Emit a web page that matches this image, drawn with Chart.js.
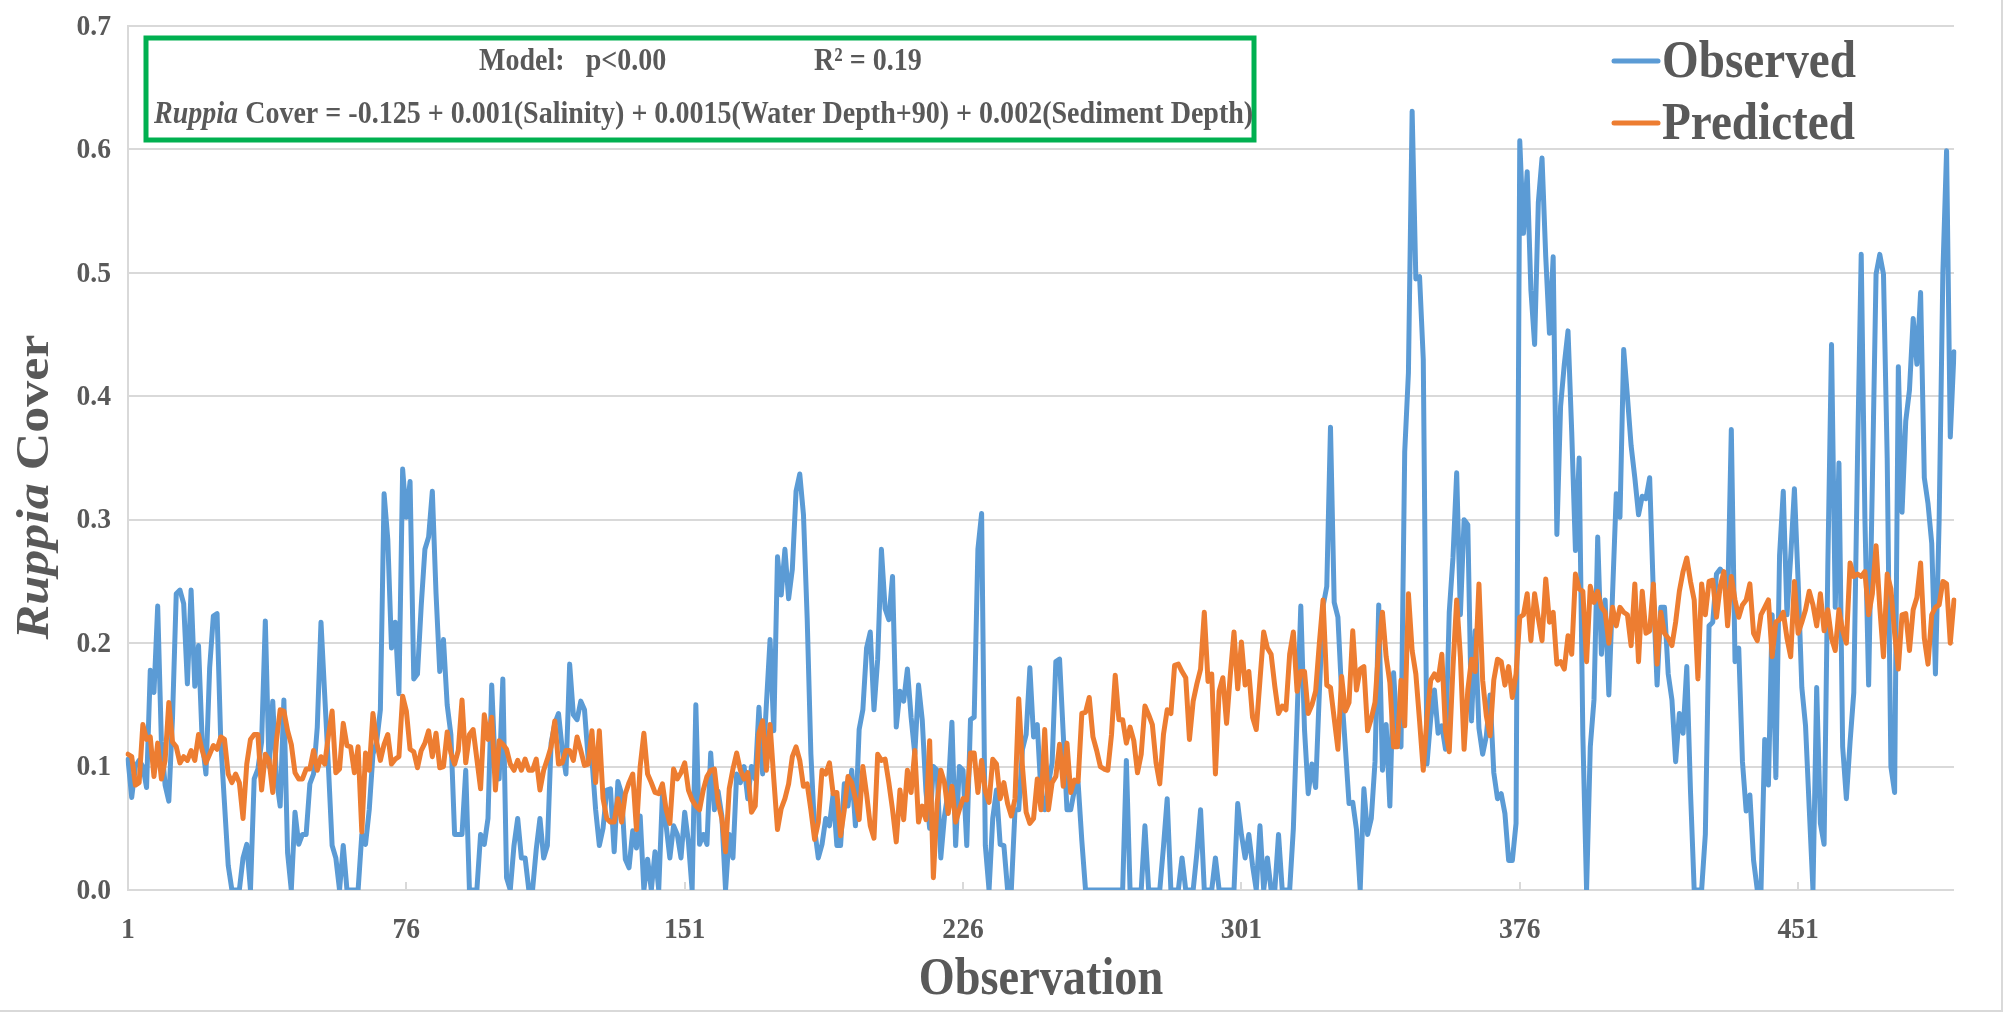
<!DOCTYPE html>
<html>
<head>
<meta charset="utf-8">
<title>Ruppia Cover: observed vs predicted</title>
<script src="https://cdn.jsdelivr.net/npm/chart.js@4.4.1/dist/chart.umd.min.js"></script>
<style>
  html, body { margin: 0; padding: 0; background: #ffffff; }
  #wrap { width: 2003px; height: 1012px; position: relative; }
  canvas { display: block; }
</style>
</head>
<body>
<div id="wrap"><canvas id="cover" width="2003" height="1012"></canvas></div>
<script>
// Observed Ruppia cover, one value per observation (1..493)
const observedCover = [
  0.106, 0.075, 0.10, 0.105, 0.10, 0.083, 0.178, 0.16, 0.23, 0.12,
  0.085, 0.072, 0.14, 0.24, 0.243, 0.232, 0.167, 0.243, 0.165, 0.198,
  0.12, 0.094, 0.18, 0.222, 0.224, 0.12, 0.07, 0.02, 0, 0,
  0, 0.026, 0.037, 0, 0.09, 0.098, 0.12, 0.218, 0.10, 0.153,
  0.09, 0.068, 0.154, 0.03, 0, 0.063, 0.037, 0.045, 0.045, 0.086,
  0.094, 0.132, 0.217, 0.158, 0.10, 0.036, 0.026, 0, 0.036, 0,
  0, 0, 0, 0.045, 0.037, 0.065, 0.11, 0.12, 0.146, 0.321,
  0.284, 0.196, 0.217, 0.159, 0.341, 0.302, 0.331, 0.171, 0.175, 0.23,
  0.276, 0.286, 0.323, 0.24, 0.177, 0.203, 0.15, 0.126, 0.045, 0.045,
  0.045, 0.097, 0, 0, 0, 0.045, 0.037, 0.058, 0.166, 0.095,
  0.09, 0.171, 0.01, 0, 0.036, 0.058, 0.026, 0.026, 0, 0,
  0.033, 0.058, 0.026, 0.036, 0.119, 0.135, 0.143, 0.114, 0.094, 0.183,
  0.142, 0.138, 0.153, 0.146, 0.106, 0.106, 0.065, 0.036, 0.05, 0.081,
  0.082, 0.031, 0.088, 0.078, 0.025, 0.018, 0.048, 0.034, 0.06, 0,
  0.025, 0, 0.031, 0, 0.078, 0.052, 0.026, 0.052, 0.045, 0.026,
  0.063, 0.039, 0, 0.15, 0.037, 0.045, 0.037, 0.111, 0.065, 0.08,
  0.06, 0, 0.045, 0.026, 0.094, 0.087, 0.1, 0.074, 0.1, 0.09,
  0.148, 0.094, 0.15, 0.203, 0.129, 0.27, 0.239, 0.276, 0.236, 0.26,
  0.323, 0.337, 0.304, 0.22, 0.11, 0.049, 0.026, 0.037, 0.058, 0.052,
  0.078, 0.036, 0.036, 0.086, 0.068, 0.097, 0.052, 0.13, 0.146, 0.196,
  0.209, 0.146, 0.187, 0.276, 0.228, 0.219, 0.254, 0.132, 0.161, 0.153,
  0.179, 0.14, 0.11, 0.166, 0.138, 0.08, 0.05, 0.1, 0.097, 0.026,
  0.06, 0.08, 0.136, 0.036, 0.1, 0.097, 0.036, 0.138, 0.14, 0.276,
  0.305, 0.036, 0, 0.058, 0.081, 0.037, 0.036, 0, 0, 0.065,
  0.065, 0.114, 0.126, 0.18, 0.124, 0.134, 0.078, 0.065, 0.086, 0.103,
  0.185, 0.187, 0.126, 0.065, 0.065, 0.081, 0.087, 0.04, 0, 0,
  0, 0, 0, 0, 0, 0, 0, 0, 0, 0.105,
  0, 0, 0, 0, 0.052, 0, 0, 0, 0, 0.035,
  0.074, 0, 0, 0, 0.026, 0, 0, 0, 0.03, 0.065,
  0, 0, 0, 0.026, 0, 0, 0, 0, 0, 0.07,
  0.045, 0.026, 0.045, 0.02, 0, 0.052, 0, 0.026, 0, 0,
  0.045, 0, 0, 0, 0.05, 0.14, 0.23, 0.13, 0.078, 0.102,
  0.083, 0.16, 0.23, 0.246, 0.375, 0.233, 0.221, 0.16, 0.116, 0.07,
  0.071, 0.049, 0, 0.082, 0.045, 0.058, 0.104, 0.231, 0.097, 0.134,
  0.068, 0.176, 0.125, 0.116, 0.355, 0.419, 0.631, 0.495, 0.497, 0.43,
  0.102, 0.139, 0.162, 0.127, 0.133, 0.114, 0.225, 0.269, 0.338, 0.223,
  0.3, 0.296, 0.137, 0.21, 0.131, 0.11, 0.125, 0.158, 0.095, 0.074,
  0.078, 0.062, 0.024, 0.024, 0.054, 0.607, 0.532, 0.582, 0.486, 0.442,
  0.557, 0.593, 0.513, 0.451, 0.513, 0.288, 0.392, 0.426, 0.453, 0.371,
  0.275, 0.35, 0.125, 0, 0.116, 0.154, 0.286, 0.191, 0.235, 0.158,
  0.24, 0.321, 0.302, 0.438, 0.4, 0.36, 0.334, 0.304, 0.319, 0.317,
  0.334, 0.24, 0.166, 0.229, 0.229, 0.175, 0.154, 0.104, 0.143, 0.127,
  0.181, 0.08, 0, 0, 0, 0.045, 0.214, 0.217, 0.256, 0.26,
  0.256, 0.23, 0.373, 0.185, 0.196, 0.104, 0.064, 0.077, 0.024, 0,
  0, 0.122, 0.085, 0.223, 0.091, 0.271, 0.323, 0.223, 0.27, 0.325,
  0.25, 0.164, 0.133, 0.066, 0, 0.164, 0.054, 0.037, 0.262, 0.442,
  0.229, 0.346, 0.116, 0.074, 0.12, 0.16, 0.35, 0.515, 0.3, 0.166,
  0.33, 0.499, 0.515, 0.499, 0.35, 0.1, 0.079, 0.424, 0.306, 0.38,
  0.405, 0.463, 0.426, 0.484, 0.334, 0.313, 0.281, 0.175, 0.3, 0.5,
  0.599, 0.367, 0.436
];

// Cover predicted by the regression model, same observations
const predictedCover = [
  0.11, 0.108, 0.085, 0.087, 0.134, 0.122, 0.124, 0.092, 0.119, 0.09,
  0.105, 0.152, 0.12, 0.116, 0.103, 0.108, 0.105, 0.113, 0.105, 0.126,
  0.113, 0.103, 0.11, 0.117, 0.114, 0.124, 0.122, 0.094, 0.087, 0.094,
  0.087, 0.058, 0.102, 0.122, 0.126, 0.126, 0.081, 0.11, 0.105, 0.079,
  0.121, 0.146, 0.145, 0.129, 0.118, 0.095, 0.09, 0.09, 0.098, 0.098,
  0.113, 0.097, 0.108, 0.102, 0.125, 0.145, 0.095, 0.098, 0.135, 0.117,
  0.116, 0.095, 0.116, 0.047, 0.111, 0.097, 0.143, 0.12, 0.105, 0.118,
  0.126, 0.102, 0.106, 0.108, 0.157, 0.145, 0.114, 0.112, 0.099, 0.113,
  0.119, 0.129, 0.108, 0.127, 0.099, 0.1, 0.128, 0.111, 0.102, 0.113,
  0.154, 0.103, 0.126, 0.13, 0.106, 0.082, 0.142, 0.122, 0.14, 0.081,
  0.121, 0.118, 0.114, 0.102, 0.097, 0.105, 0.097, 0.106, 0.097, 0.097,
  0.106, 0.081, 0.097, 0.106, 0.116, 0.137, 0.102, 0.103, 0.113, 0.113,
  0.105, 0.124, 0.113, 0.101, 0.102, 0.129, 0.087, 0.129, 0.074, 0.058,
  0.055, 0.055, 0.074, 0.055, 0.078, 0.087, 0.094, 0.049, 0.10, 0.127,
  0.094, 0.087, 0.079, 0.078, 0.086, 0.065, 0.054, 0.098, 0.09, 0.095,
  0.103, 0.081, 0.073, 0.068, 0.065, 0.081, 0.092, 0.097, 0.098, 0.071,
  0.058, 0.031, 0.082, 0.098, 0.111, 0.097, 0.09, 0.095, 0.063, 0.068,
  0.127, 0.137, 0.097, 0.134, 0.09, 0.049, 0.066, 0.074, 0.086, 0.108,
  0.116, 0.105, 0.084, 0.086, 0.065, 0.041, 0.055, 0.097, 0.094, 0.103,
  0.078, 0.079, 0.044, 0.065, 0.092, 0.087, 0.074, 0.057, 0.1, 0.078,
  0.052, 0.042, 0.11, 0.105, 0.106, 0.087, 0.065, 0.039, 0.081, 0.057,
  0.097, 0.079, 0.113, 0.055, 0.068, 0.057, 0.121, 0.01, 0.07, 0.097,
  0.087, 0.062, 0.084, 0.055, 0.065, 0.074, 0.073, 0.111, 0.111, 0.079,
  0.105, 0.08, 0.071, 0.106, 0.102, 0.074, 0.087, 0.07, 0.06, 0.074,
  0.155, 0.1, 0.063, 0.054, 0.058, 0.09, 0.065, 0.13, 0.065, 0.087,
  0.092, 0.118, 0.084, 0.119, 0.079, 0.089, 0.088, 0.143, 0.144, 0.156,
  0.124, 0.113, 0.1, 0.098, 0.097, 0.126, 0.174, 0.138, 0.138, 0.119,
  0.132, 0.121, 0.095, 0.11, 0.149, 0.142, 0.134, 0.103, 0.086, 0.126,
  0.146, 0.143, 0.182, 0.183, 0.177, 0.172, 0.122, 0.153, 0.167, 0.179,
  0.225, 0.169, 0.175, 0.094, 0.161, 0.172, 0.135, 0.174, 0.209, 0.163,
  0.201, 0.166, 0.177, 0.14, 0.13, 0.17, 0.209, 0.196, 0.191, 0.165,
  0.143, 0.149, 0.146, 0.191, 0.209, 0.161, 0.177, 0.177, 0.143, 0.15,
  0.161, 0.2, 0.235, 0.166, 0.164, 0.139, 0.114, 0.173, 0.145, 0.152,
  0.21, 0.162, 0.179, 0.181, 0.129, 0.139, 0.152, 0.196, 0.225, 0.189,
  0.168, 0.116, 0.116, 0.17, 0.133, 0.24, 0.194, 0.175, 0.137, 0.097,
  0.14, 0.17, 0.175, 0.17, 0.191, 0.129, 0.112, 0.18, 0.235, 0.189,
  0.114, 0.162, 0.187, 0.177, 0.248, 0.17, 0.141, 0.125, 0.17, 0.187,
  0.185, 0.166, 0.181, 0.156, 0.175, 0.221, 0.223, 0.24, 0.202, 0.24,
  0.22, 0.202, 0.252, 0.217, 0.225, 0.183, 0.185, 0.179, 0.206, 0.191,
  0.256, 0.244, 0.242, 0.185, 0.246, 0.233, 0.242, 0.229, 0.225, 0.2,
  0.229, 0.214, 0.229, 0.225, 0.223, 0.198, 0.248, 0.185, 0.242, 0.208,
  0.21, 0.248, 0.183, 0.225, 0.208, 0.204, 0.198, 0.217, 0.242, 0.258,
  0.269, 0.25, 0.235, 0.171, 0.248, 0.223, 0.25, 0.251, 0.221, 0.246,
  0.258, 0.214, 0.254, 0.235, 0.221, 0.231, 0.235, 0.248, 0.208, 0.202,
  0.223, 0.229, 0.235, 0.189, 0.217, 0.219, 0.225, 0.204, 0.189, 0.25,
  0.208, 0.217, 0.227, 0.242, 0.231, 0.214, 0.24, 0.21, 0.227, 0.204,
  0.194, 0.227, 0.21, 0.2, 0.265, 0.254, 0.256, 0.254, 0.258, 0.223,
  0.24, 0.279, 0.229, 0.189, 0.256, 0.244, 0.208, 0.179, 0.223, 0.224,
  0.194, 0.227, 0.237, 0.265, 0.204, 0.183, 0.223, 0.229, 0.231, 0.25,
  0.248, 0.2, 0.235
];

// Observation numbers along the category axis
const observationIds = observedCover.map((_, i) => String(i + 1));

// Labelled positions on each axis
const xTickLabels = ['1', '76', '151', '226', '301', '376', '451'];
const yTickValues = [0, 0.1, 0.2, 0.3, 0.4, 0.5, 0.6, 0.7];
const yTickLabels = ['0.0', '0.1', '0.2', '0.3', '0.4', '0.5', '0.6', '0.7'];

// Series names and model summary
const seriesNames = ['Observed', 'Predicted'];
const modelLine = ['Model:   p<0.00', 'R\u00B2 = 0.19'];
const equationItalic = 'Ruppia';
const equationRest = ' Cover = -0.125 + 0.001(Salinity) + 0.0015(Water Depth+90) + 0.002(Sediment Depth)';
const yTitleParts = ['Ruppia', ' Cover'];
const xTitle = 'Observation';

const INK = '#595959';
const BLUE = '#5B9BD5';
const ORANGE = '#ED7D31';
const GRID = '#D9D9D9';
const SERIF = '"Liberation Serif", "Times New Roman", serif';
const SQUEEZE = 0.89;   // narrow, condensed lettering

// Horizontally condensed text at (x, y)
function condensedText(ctx, text, x, y, font, align, squeeze = SQUEEZE) {
  ctx.save();
  ctx.font = font;
  ctx.textBaseline = 'middle';
  ctx.textAlign = 'left';
  const w = ctx.measureText(text).width * squeeze;
  let left = x;
  if (align === 'center') left = x - w / 2;
  if (align === 'right') left = x - w;
  ctx.translate(left, y);
  ctx.scale(squeeze, 1);
  ctx.fillText(text, 0, 0);
  ctx.restore();
  return w;
}

const decorations = {
  id: 'decorations',
  afterDraw(chart) {
    const ctx = chart.ctx;
    const xs = chart.scales.x;
    const ys = chart.scales.y;
    const area = chart.chartArea;
    ctx.save();

    // small inside tick marks on the category axis
    ctx.strokeStyle = GRID;
    ctx.lineWidth = 2;
    xTickLabels.forEach(lbl => {
      const px = Math.round(xs.getPixelForValue(observationIds.indexOf(lbl)));
      ctx.beginPath();
      ctx.moveTo(px, area.bottom - 8);
      ctx.lineTo(px, area.bottom);
      ctx.stroke();
    });

    ctx.fillStyle = INK;
    // y tick labels
    yTickValues.forEach((v, i) => {
      condensedText(ctx, yTickLabels[i], 111, ys.getPixelForValue(v) + 1, `bold 30px ${SERIF}`, 'right', 0.92);
    });
    // x tick labels
    xTickLabels.forEach(lbl => {
      const idx = observationIds.indexOf(lbl);
      condensedText(ctx, lbl, xs.getPixelForValue(idx), 930, `bold 30px ${SERIF}`, 'center', 0.92);
    });

    // x axis title
    condensedText(ctx, xTitle, (area.left + area.right) / 2, 981, `bold 52px ${SERIF}`, 'center');

    // y axis title, rotated, with italic genus name
    ctx.save();
    ctx.translate(36, 487);
    ctx.rotate(-Math.PI / 2);
    ctx.scale(1, SQUEEZE);
    ctx.textBaseline = 'middle';
    ctx.font = `italic bold 52px ${SERIF}`;
    const w0 = ctx.measureText(yTitleParts[0]).width;
    ctx.font = `bold 52px ${SERIF}`;
    const w1 = ctx.measureText(yTitleParts[1]).width;
    const sx = -(w0 + w1) / 2;
    ctx.font = `italic bold 52px ${SERIF}`;
    ctx.fillText(yTitleParts[0], sx, 0);
    ctx.font = `bold 52px ${SERIF}`;
    ctx.fillText(yTitleParts[1], sx + w0, 0);
    ctx.restore();

    // model summary box
    ctx.fillStyle = '#ffffff';
    ctx.fillRect(146, 38, 1108, 102);
    ctx.strokeStyle = '#00B050';
    ctx.lineWidth = 5;
    ctx.strokeRect(146, 38, 1108, 102);
    ctx.fillStyle = INK;
    const boxFont = `bold 31.5px ${SERIF}`;
    condensedText(ctx, modelLine[0], 479, 62, boxFont, 'left');
    condensedText(ctx, modelLine[1], 814, 62, boxFont, 'left');
    const wi = condensedText(ctx, equationItalic, 154, 115, `italic bold 31.5px ${SERIF}`, 'left');
    condensedText(ctx, equationRest, 154 + wi, 115, boxFont, 'left');

    // legend
    const legendRows = [[seriesNames[0], BLUE, 61], [seriesNames[1], ORANGE, 123]];
    legendRows.forEach(([name, color, y]) => {
      ctx.strokeStyle = color;
      ctx.lineWidth = 5;
      ctx.lineCap = 'round';
      ctx.beginPath();
      ctx.moveTo(1614, y);
      ctx.lineTo(1658, y);
      ctx.stroke();
      ctx.fillStyle = INK;
      condensedText(ctx, name, 1662, y + 2, `bold 53px ${SERIF}`, 'left');
    });

    // chart frame, right and bottom edges
    ctx.strokeStyle = GRID;
    ctx.lineWidth = 2;
    ctx.beginPath();
    ctx.moveTo(chart.width - 1, 0);
    ctx.lineTo(chart.width - 1, chart.height - 1);
    ctx.lineTo(0, chart.height - 1);
    ctx.stroke();
    ctx.restore();
  }
};

new Chart(document.getElementById('cover'), {
  type: 'line',
  data: {
    labels: observationIds,
    datasets: [
      {
        label: seriesNames[0],
        data: observedCover,
        borderColor: BLUE,
        backgroundColor: BLUE,
        borderWidth: 5,
        pointRadius: 0,
        tension: 0,
        borderJoinStyle: 'round',
        borderCapStyle: 'round',
        order: 2
      },
      {
        label: seriesNames[1],
        data: predictedCover,
        borderColor: ORANGE,
        backgroundColor: ORANGE,
        borderWidth: 5,
        pointRadius: 0,
        tension: 0,
        borderJoinStyle: 'round',
        borderCapStyle: 'round',
        order: 1
      }
    ]
  },
  options: {
    responsive: false,
    animation: false,
    devicePixelRatio: 1,
    layout: { padding: { left: 0, right: 49, top: 26, bottom: 0 } },
    plugins: { legend: { display: false }, tooltip: { enabled: false } },
    scales: {
      x: {
        type: 'category',
        offset: false,
        ticks: { display: false },
        grid: { display: false },
        border: { display: false },
        afterFit(scale) { scale.height = 122; }
      },
      y: {
        min: 0,
        max: 0.7,
        ticks: { display: false, stepSize: 0.1 },
        grid: { color: GRID, lineWidth: 2, drawTicks: false },
        border: { display: true, color: GRID, width: 2 },
        afterFit(scale) { scale.width = 128; }
      }
    }
  },
  plugins: [decorations]
});
</script>
</body>
</html>
